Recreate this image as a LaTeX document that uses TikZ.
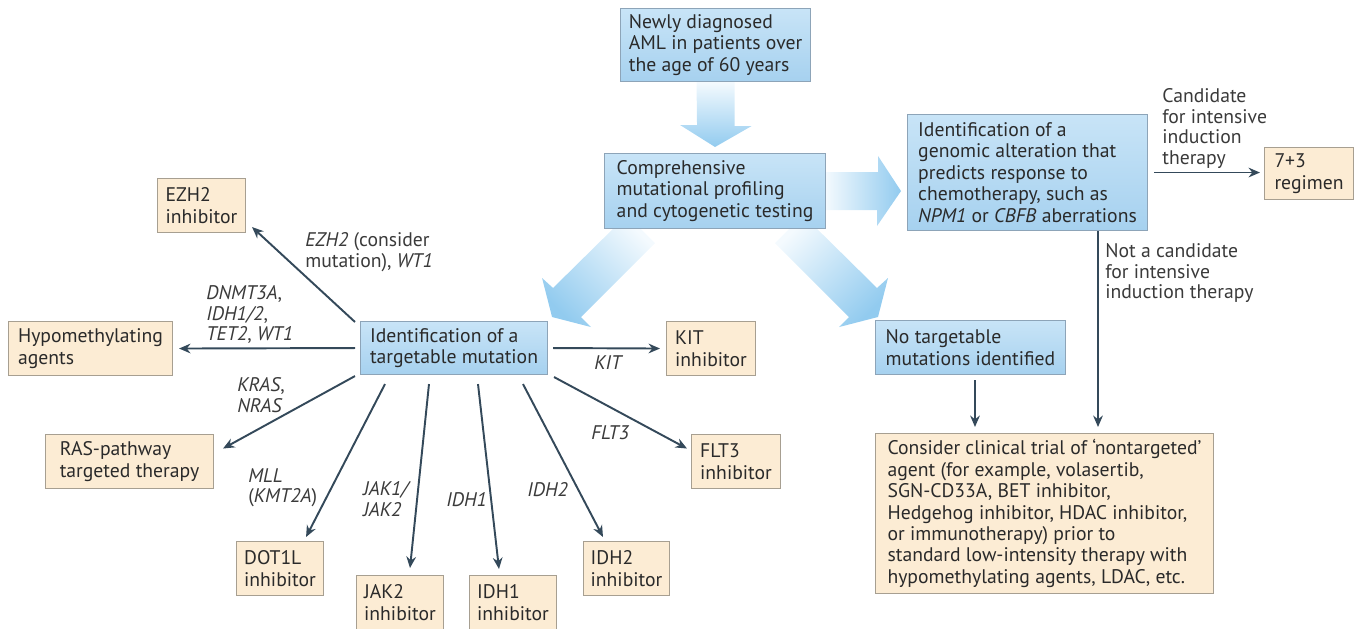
\documentclass[tikz,border=0pt]{standalone}
\usepackage{fontspec}
\setmainfont{PT Sans}
\usepackage{tikz}
\usetikzlibrary{arrows.meta,calc,positioning,backgrounds}

\definecolor{bluetop}{HTML}{C8E4F7}
\definecolor{bluebot}{HTML}{A6D1EF}
\definecolor{blueedge}{HTML}{8DA4B8}
\definecolor{tanfill}{HTML}{FCECD4}
\definecolor{tanedge}{HTML}{A79F91}
\definecolor{linkcol}{HTML}{34495A}
\definecolor{bigblue}{HTML}{92CBEF}
\definecolor{bigpale}{HTML}{F4FAFE}
\definecolor{txtcol}{HTML}{2A2A2A}
\definecolor{lblcol}{HTML}{3A3A3A}

\tikzset{
  bx/.style={anchor=north west, align=left, inner xsep=0.14cm, inner ysep=0.06cm,
    line width=0.6pt, text=txtcol, font=\fontsize{11.2}{12.2}\selectfont},
  sz/.style 2 args={minimum width=#1*0.02cm, minimum height=#2*0.02cm},
  bluebox/.style={bx, draw=blueedge, top color=bluetop, bottom color=bluebot},
  tanbox/.style={bx, draw=tanedge, fill=tanfill},
  lbl/.style={anchor=north west, align=left, inner sep=0pt, text=lblcol,
    font=\fontsize{11.2}{11.8}\selectfont},
  link/.style={draw=linkcol, line width=1.1pt, -{Stealth[length=6.5pt,width=5.5pt]}},
  vbig/.style={top color=bigpale, bottom color=bigblue},
  hbig/.style={left color=bigpale, right color=bigblue},
  lbig/.style={top color=bigblue, bottom color=bigpale, shading angle=135},
  rbig/.style={top color=bigblue, bottom color=bigpale, shading angle=-135}
}

\begin{document}
\begin{tikzpicture}[x=0.02cm, y=-0.02cm]
\useasboundingbox (0,0) rectangle (1360,629);

% main flow
\node[bluebox, sz={190}{73}] (newly) at (620,8) {Newly diagnosed\\AML in patients over\\the age of 60 years};
\node[bluebox, sz={221}{75}] (profile) at (604,153) {Comprehensive\\mutational profiling\\and cytogenetic testing};
\node[bluebox, sz={240}{116}] (genomic) at (907,114) {Identification of a\\genomic alteration that\\predicts response to\\chemotherapy, such as\\\textit{NPM1} or \textit{CBFB} aberrations};
\node[tanbox, sz={89}{52}] (regimen) at (1264,147) {7+3\\regimen};
\node[bluebox, sz={187}{53}] (targetable) at (360,321) {Identification of a\\targetable mutation};
\node[bluebox, sz={190}{54}] (notarget) at (875,320) {No targetable\\mutations identified};
\node[tanbox, sz={338}{160}] (trial) at (875,433) {Consider clinical trial of `nontargeted'\\agent (for example, volasertib,\\SGN-CD33A, BET inhibitor,\\Hedgehog inhibitor, HDAC inhibitor,\\or immunotherapy) prior to\\standard low-intensity therapy with\\hypomethylating agents, LDAC, etc.};

% targeted options
\node[tanbox, sz={88}{54}] (ezh) at (157,178) {EZH2\\inhibitor};
\node[tanbox, sz={164}{54}] (hma) at (8,321) {Hypomethylating\\agents};
\node[tanbox, sz={168}{54}] (ras) at (45,434) {RAS-pathway\\targeted therapy};
\node[tanbox, sz={87}{54}] (dotl) at (236,541) {DOT1L\\inhibitor};
\node[tanbox, sz={87}{54}] (jak) at (356,575) {JAK2\\inhibitor};
\node[tanbox, sz={87}{54}] (idha) at (469,575) {IDH1\\inhibitor};
\node[tanbox, sz={86}{54}] (idhb) at (583,541) {IDH2\\inhibitor};
\node[tanbox, sz={89}{54}] (kit) at (666,321) {KIT\\inhibitor};
\node[tanbox, sz={89}{54}] (flt) at (691,434) {FLT3\\inhibitor};

% big arrows, behind the boxes
\begin{scope}[on background layer]
\shade[vbig] ($(newly.south)+(-19,0)$) -- ++(38,0) -- ++(0,44) -- ++(17,0)
  -- ($(profile.north)+(0,-6)$) -- ++(-35,-22) -- ++(17,0) -- cycle;
\shade[hbig] ($(profile.east)+(0,-19)$) -- ++(52,0) -- ++(0,-16)
  -- ($(profile.east -| genomic.west)+(-6,0)$) -- ++(-24,35) -- ++(0,-16) -- ++(-52,0) -- cycle;
\shade[lbig] ($(profile.south)+(-88,-14)$) -- ++(28,28) -- ++(-74,74) -- ++(10,10)
  -- ($(targetable.north east)+(4,-4)$) -- ++(-10,-39) -- ++(11,10) -- cycle;
\shade[rbig] ($(profile.south)+(88,-14)$) -- ++(-28,28) -- ++(74,74) -- ++(-10,10)
  -- ($(notarget.north west)+(3,-3)$) -- ++(10,-39) -- ++(-11,10) -- cycle;
\end{scope}

% thin arrows
\draw[link] ($(targetable.north west)+(-5,1)$) -- ($(ezh.south east)+(6,-6)$);
\draw[link] ($(targetable.west)+(-5,0)$) -- ($(hma.east)+(6,0)$);
\draw[link] ($(targetable.south west)+(-5,1)$) -- ($(ras.east)+(9,-13)$);
\draw[link] ($(targetable.south west)+(25,9)$) -- ($(dotl.north east)+(-18,-4)$);
\draw[link] ($(targetable.south west)+(69,9)$) -- ($(jak.north west)+(54,-7)$);
\draw[link] ($(targetable.south west)+(118,9)$) -- ($(idha.north west)+(30,-6)$);
\draw[link] ($(targetable.south west)+(163,9)$) -- ($(idhb.north west)+(20,-4)$);
\draw[link] ($(targetable.east)+(5,0)$) -- ($(kit.west)+(-6,0)$);
\draw[link] ($(targetable.south east)+(6,2)$) -- ($(flt.west)+(-4,-13)$);
\draw[link] ($(genomic.east)+(6,0)$) -- ($(genomic.east -| regimen.west)+(-4,0)$);
\draw[link] ($(genomic.south west)+(191,0)$) -- ($(trial.north west)+(223,-6)$);
\draw[link] ($(notarget.south west)+(100,5)$) -- ($(trial.north west)+(100,-6)$);

% labels
\node[lbl] (lezh) at (305,232) {\textit{EZH2} (consider\\mutation), \textit{WT1}};
\node[lbl] (lhma) at (206,285) {\textit{DNMT3A},\\\textit{IDH1/2},\\\textit{TET2}, \textit{WT1}};
\node[lbl] (lras) at (237,377) {\textit{KRAS},\\\textit{NRAS}};
\node[lbl] (lmll) at (248,468) {\textit{MLL}\\(\textit{KMT2A})};
\node[lbl] (ljak) at (363,481) {\textit{JAK1/}\\\textit{JAK2}};
\node[lbl] (lidha) at (446,492) {\textit{IDH1}};
\node[lbl] (lidhb) at (527,482) {\textit{IDH2}};
\node[lbl] (lkit) at (594,355) {\textit{KIT}};
\node[lbl] (lflt) at (591,425) {\textit{FLT3}};
\node[lbl] (lyes) at (1162,88) {Candidate\\for intensive\\induction\\therapy};
\node[lbl] (lno) at (1105,243) {Not a candidate\\for intensive\\induction therapy};
\end{tikzpicture}
\end{document}
